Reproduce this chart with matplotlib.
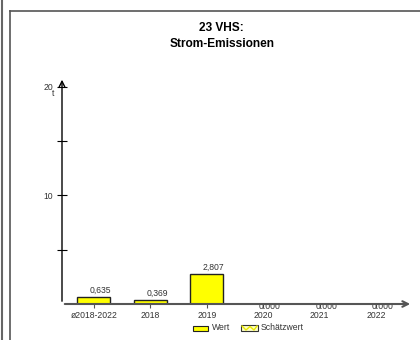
import matplotlib.pyplot as plt
import matplotlib.patches as mpatches
from matplotlib.lines import Line2D

plt.rcParams['font.family'] = ['Liberation Sans', 'DejaVu Sans']

categories = ["ø2018-2022", "2018", "2019", "2020", "2021", "2022"]
values = [0.635, 0.369, 2.807, 0.0, 0.0, 0.0]
value_labels = ["0,635", "0,369", "2,807", "0.000", "0.000", "0.000"]
y_ticks = [5, 10, 15, 20]
y_tick_labels = ["", "10", "", "20"]

W, H = 420, 340
fig = plt.figure(figsize=(W / 100, H / 100), dpi=100)


def fx(px):
    return px / W


def fy(py):
    return 1 - py / H


# plot area in pixels: x 62..413, y 65..304
ax = fig.add_axes([fx(62), fy(304), fx(413 - 62), (304 - 65) / H])
ax.set_xlim(-0.567, 5.656)
ax.set_ylim(0, 22)
for s in ax.spines.values():
    s.set_visible(False)
ax.patch.set_alpha(0)

x = list(range(len(categories)))
ax.bar(x, values, width=0.585, color="#ffff00", edgecolor="#222222", linewidth=1.0, zorder=3)

fs = 6.2
for i, v in enumerate(values):
    if v > 0:
        ax.text(i + 0.12, v + 0.2, value_labels[i], ha="center", va="bottom", fontsize=fs, color="#333333")
    else:
        ax.text(i + 0.12, -0.25, value_labels[i], ha="center", va="center", fontsize=fs, color="#333333")

# axes with arrows
ax.annotate("", xy=(-0.567, 20.9), xytext=(-0.567, 0), annotation_clip=False,
            arrowprops=dict(arrowstyle="->", color="black", lw=1.0, mutation_scale=10))
ax.annotate("", xy=(5.656, 0), xytext=(-0.567, 0), annotation_clip=False,
            arrowprops=dict(arrowstyle="->", color="#555555", lw=1.5, mutation_scale=10))

ax.set_yticks(y_ticks)
ax.set_yticklabels(y_tick_labels)
ax.tick_params(axis="y", direction="inout", length=7, width=0.8, labelsize=fs, pad=3, colors="black")
for lab in ax.get_yticklabels():
    lab.set_color("#333333")
ax.text(-0.567 - 0.14, 19.4, "t", ha="right", va="center", fontsize=fs, color="#333333")

ax.set_xticks(x)
ax.set_xticklabels(categories)
ax.tick_params(axis="x", direction="out", length=3, width=0.8, labelsize=fs, pad=2, colors="#555555")
for lab in ax.get_xticklabels():
    lab.set_color("#333333")

# title
fig.text(fx(221), fy(28), "23 VHS:", ha="center", va="center", fontsize=8.6, fontweight="bold")
fig.text(fx(222), fy(44), "Strom-Emissionen", ha="center", va="center", fontsize=8.6, fontweight="bold")

# legend
fig.patches.append(mpatches.Rectangle((fx(193), fy(331)), fx(15), 5 / H, transform=fig.transFigure,
                                      facecolor="#ffff00", edgecolor="#222222", linewidth=0.8))
fig.text(fx(212), fy(328), "Wert", ha="left", va="center", fontsize=fs, color="#333333")
fig.patches.append(mpatches.Rectangle((fx(241), fy(331)), fx(17), 6 / H, transform=fig.transFigure,
                                      facecolor="#ffffc8", edgecolor="#333333", linewidth=0.8))
fig.lines.append(Line2D([fx(242), fx(246), fx(250), fx(254), fx(257)],
                        [fy(326), fy(330), fy(326.5), fy(330), fy(326)],
                        transform=fig.transFigure, color="#e8e800", lw=1.0))
fig.text(fx(261), fy(328), "Schätzwert", ha="left", va="center", fontsize=fs, color="#333333")

# frame lines
fig.lines.append(Line2D([fx(1.5), fx(1.5)], [0, 1], transform=fig.transFigure, color="#666666", lw=1.5))
fig.lines.append(Line2D([fx(9.5), fx(9.5)], [0, fy(11)], transform=fig.transFigure, color="#555555", lw=1.2))
fig.lines.append(Line2D([fx(9.5), 1], [fy(11), fy(11)], transform=fig.transFigure, color="#555555", lw=1.2))

fig.savefig("out.png", dpi=100)
